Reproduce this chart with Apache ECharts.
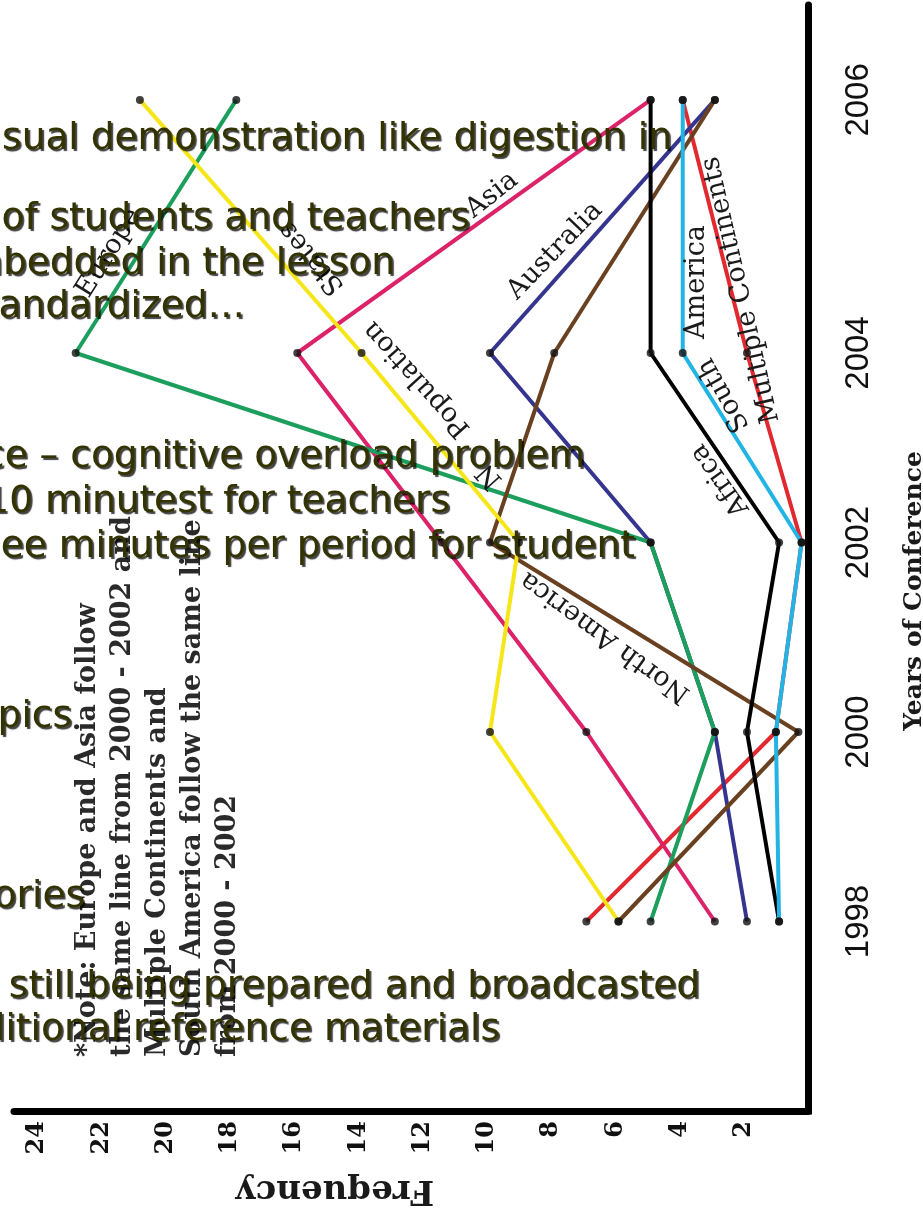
<!DOCTYPE html>
<html><head><meta charset="utf-8">
<script src="https://cdn.jsdelivr.net/npm/echarts@6/dist/echarts.min.js"></script>
<style>html,body{margin:0;padding:0;background:#fff}#c{width:923px;height:1212px}</style>
</head><body><div id="c"></div>
<script>
// Years of conference (ascending)
const years = [1998, 2000, 2002, 2004, 2006];
const yearTickLabels = ['1998', '2000', '2002', '2004', '2006'];
const freqTickLabels = [2, 4, 6, 8, 10, 12, 14, 16, 18, 20, 22, 24];
// Frequency per year (order: 1998, 2000, 2002, 2004, 2006)
const multipleContinents = [6.9, 1.0, 0.2, 1.9, 3.9];
const australia = [1.9, 2.9, 4.9, 9.9, 2.9];
const asia = [2.9, 6.9, 11.4, 15.9, 4.9];
const europe = [4.9, 2.9, 4.9, 22.8, 17.8];
const northAmerica = [5.9, 0.3, 9.9, 7.9, 2.9];
const africa = [0.9, 1.9, 0.9, 4.9, 4.9];
const population = [5.9, 9.9, 9.0, 13.9, 20.8];
const southAmerica = [0.9, 1.0, 0.2, 3.9, 3.9];

const lines = [
  {name: 'Multiple Continents', data: multipleContinents, color: '#e12a30'},
  {name: 'Australia', data: australia, color: '#35358f'},
  {name: 'Asia', data: asia, color: '#dc2268'},
  {name: 'Europe', data: europe, color: '#1c9e5c'},
  {name: 'North America', data: northAmerica, color: '#6a4120'},
  {name: 'Africa', data: africa, color: '#000000'},
  {name: 'Population', data: population, color: '#f6e617'},
  {name: 'South America', data: southAmerica, color: '#22b4e4'}
];

const lowerIdx = [0, 1, 2, 3];   // 1998 - 2004
const upperIdx = [3, 4];         // 2004 - 2006
const series = [];
lines.forEach(l => {
  series.push({type: 'line', name: l.name, xAxisIndex: 0, yAxisIndex: 0, clip: false, silent: true,
    symbol: 'none', lineStyle: {color: l.color, width: 4}, itemStyle: {color: l.color},
    data: lowerIdx.map(i => [l.data[i], years[i]])});
  series.push({type: 'line', name: l.name, xAxisIndex: 1, yAxisIndex: 1, clip: false, silent: true,
    symbol: 'none', lineStyle: {color: l.color, width: 4}, itemStyle: {color: l.color},
    data: upperIdx.map(i => [l.data[i], years[i]])});
});
const lowerDots = [], upperDots = [];
lines.forEach(l => {
  lowerIdx.forEach(i => lowerDots.push([l.data[i], years[i]]));
  upperDots.push([l.data[4], years[4]]);
});
series.push({type: 'scatter', xAxisIndex: 0, yAxisIndex: 0, z: 5, silent: true, symbolSize: 8,
  itemStyle: {color: '#111'}, data: lowerDots});
series.push({type: 'scatter', xAxisIndex: 1, yAxisIndex: 1, z: 5, silent: true, symbolSize: 8,
  itemStyle: {color: '#111'}, data: upperDots});

const serif = '"DejaVu Serif", "Liberation Serif", serif';
const axisLineStyle = {color: '#000', width: 7};
const freqAxisBase = {type: 'value', inverse: true, min: 0, max: 24.72, interval: 2,
  splitLine: {show: false}, axisTick: {show: false}};

function label(text, x, y, deg, font) {
  return {type: 'text', x: x, y: y, rotation: deg * Math.PI / 180, z: 50, silent: true,
    style: {text: text, fill: '#1a1a1a', font: font || ('27px ' + serif), textAlign: 'center', textVerticalAlign: 'middle'}};
}
function slide(text, right, y) {
  return {type: 'text', x: right, y: y, z: 100, silent: true,
    style: {text: text, fill: '#333300', font: '37.5px "DejaVu Sans", Verdana, sans-serif',
      textAlign: 'right', textVerticalAlign: 'middle',
      textShadowColor: 'rgba(0,0,0,0.75)', textShadowOffsetX: 2, textShadowOffsetY: 2, textShadowBlur: 1}};
}

const option = {
  animation: false,
  backgroundColor: '#fff',
  grid: [
    {left: 14, right: 115, top: 353, bottom: 101},
    {left: 14, right: 115, top: 5, bottom: 859}
  ],
  xAxis: [
    Object.assign({}, freqAxisBase, {gridIndex: 0, position: 'bottom',
      axisLine: {show: true, lineStyle: axisLineStyle},
      axisLabel: {rotate: 90, margin: 10, color: '#111', fontFamily: serif, fontWeight: 'bold', fontSize: 24,
        formatter: v => freqTickLabels.indexOf(v) >= 0 ? String(v) : ''}}),
    Object.assign({}, freqAxisBase, {gridIndex: 1, show: false})
  ],
  yAxis: [
    {type: 'value', gridIndex: 0, position: 'right', min: 1996, max: 2004, interval: 2,
      splitLine: {show: false}, axisTick: {show: false},
      axisLine: {show: true, lineStyle: Object.assign({cap: 'square'}, axisLineStyle)},
      axisLabel: {rotate: 90, margin: 34, color: '#111', fontFamily: '"Liberation Sans", Arial, sans-serif', fontSize: 33,
        formatter: v => (v >= 1998 && v <= 2004) ? yearTickLabels[years.indexOf(v)] : ''}},
    {type: 'value', gridIndex: 1, position: 'right', min: 2004, max: 2006.75, interval: 2,
      splitLine: {show: false}, axisTick: {show: false},
      axisLine: {show: true, lineStyle: axisLineStyle},
      axisLabel: {rotate: 90, margin: 34, color: '#111', fontFamily: '"Liberation Sans", Arial, sans-serif', fontSize: 33,
        formatter: v => v === 2006 ? yearTickLabels[4] : ''}}
  ],
  series: series,
  graphic: [
    label('Frequency', 335, 1190, 180, 'bold 34px ' + serif),
    label('Years of Conference', 914, 591, 90, 'bold 25px ' + serif),
    {type: 'text', x: 70, y: 1057, rotation: Math.PI / 2, z: 40, silent: true,
      style: {text: '*Note: Europe and Asia follow\nthe same line from 2000 - 2002 and\nMultiple Continents and\nSouth America follow the same line\nfrom 2000 - 2002',
        fill: '#2a2a2a', font: 'bold 27px ' + serif, lineHeight: 35, textAlign: 'left', textVerticalAlign: 'top'}},
    label('Europe', 109, 253, 58),
    label('States', 312, 258, 130),
    label('Population', 417, 379, 132),
    label('N', 490, 476, 132),
    label('Asia', 492, 195, 38),
    label('Australia', 555, 251, 46),
    label('America', 697, 282, 90),
    label('South', 724, 395, 119),
    label('Multiple Continents', 741, 290, 103),
    label('Africa', 720, 480, 125.5),
    label('North America', 605, 637, 143.7),
    slide('sual demonstration like digestion in', 672, 139),
    slide('of students and teachers', 470, 219),
    slide('nbedded in the lesson', 395, 264),
    slide('tandardized\u2026', 245, 307),
    slide('ce \u2013 cognitive overload problem', 585, 457),
    slide('10 minutest for teachers', 450, 502),
    slide('ee minutes per period for student', 635, 547),
    slide('pics', 72, 717),
    slide('ories', 85, 897),
    slide('still being prepared and broadcasted', 700, 987),
    slide('litional reference materials', 500, 1030)
  ]
};
const chart = echarts.init(document.getElementById('c'), null, {renderer: 'canvas'});
chart.setOption(option);
</script></body></html>
